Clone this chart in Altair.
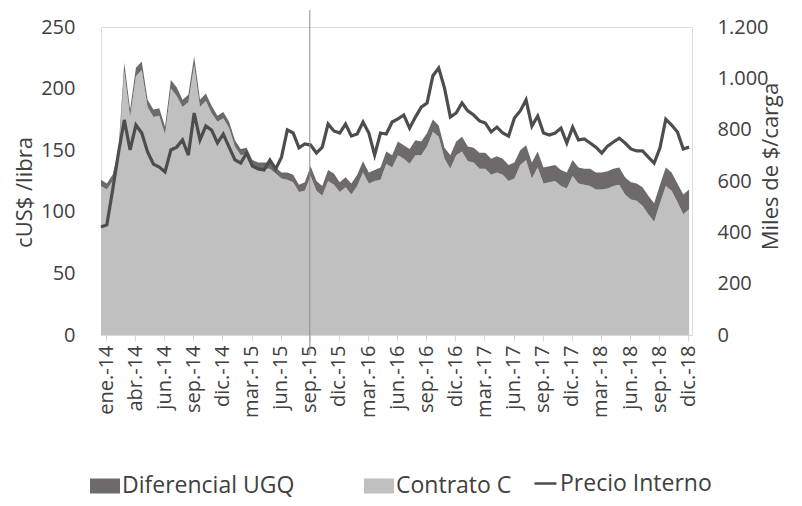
import altair as alt
import pandas as pd

etiquetas = ["ene.-14", "abr.-14", "jun.-14", "sep.-14", "dic.-14", "mar.-15", "jun.-15",
             "sep.-15", "dic.-15", "mar.-16", "jun.-16", "sep.-16", "dic.-16", "mar.-17",
             "jun.-17", "sep.-17", "dic.-17", "mar.-18", "jun.-18", "sep.-18", "dic.-18"]

# cUS$/libra (eje izquierdo)
contrato_c = [121, 118, 125, 144, 214, 177, 210, 215, 185, 177, 178, 163, 200, 194, 185, 189, 219,
              185, 190, 180, 173, 176, 168, 153, 146, 147, 137, 135, 135, 135, 131, 127, 126, 124,
              116, 117, 129, 117, 113, 125, 122, 116, 120, 114, 121, 132, 123, 125, 126, 139, 136,
              146, 143, 139, 146, 146, 153, 165, 161, 143, 135, 146, 149, 141, 140, 135, 135, 130,
              132, 130, 125, 127, 138, 142, 127, 136, 123, 124, 125, 121, 119, 129, 123, 122, 121,
              118, 118, 119, 121, 122, 114, 110, 109, 105, 98, 92, 107, 121, 117, 108, 98, 102]
diferencial_ugq = [5, 5, 5, 6, 7, 6, 7, 7, 6, 6, 6, 6, 7, 7, 6, 6, 7,
                   6, 6, 6, 5, 5, 5, 5, 5, 5, 5, 5, 5, 5, 5, 5, 6, 6,
                   6, 7, 8, 8, 8, 9, 9, 8, 8, 9, 9, 9, 9, 9, 10, 10, 10,
                   11, 11, 12, 12, 11, 11, 10, 9, 9, 11, 11, 12, 12, 12, 13, 13, 13,
                   13, 13, 13, 13, 12, 12, 13, 13, 13, 13, 13, 13, 13, 13, 13, 13, 14,
                   14, 14, 14, 14, 14, 14, 14, 14, 15, 15, 15, 15, 15, 15, 15, 16, 16]
# Miles de $/carga (eje derecho)
precio_interno = [421, 429, 565, 709, 838, 721, 818, 787, 713, 666, 654, 635, 721, 732, 760, 701, 865,
                  760, 814, 798, 748, 783, 732, 682, 670, 709, 658, 647, 643, 682, 647, 693, 799, 787,
                  729, 744, 740, 709, 732, 822, 795, 787, 822, 775, 783, 830, 787, 701, 787, 783, 830,
                  842, 857, 806, 849, 888, 904, 1010, 1040, 962, 849, 865, 904, 873, 857, 834, 826, 791,
                  810, 787, 775, 845, 873, 916, 814, 853, 787, 779, 787, 806, 748, 810, 760, 764, 748,
                  732, 709, 736, 752, 767, 748, 725, 717, 717, 693, 670, 729, 841, 818, 791, 725, 732]

obs_por_etiqueta = 5
desfase = 0.86
pos_etiquetas = [desfase + obs_por_etiqueta * k for k in range(len(etiquetas))]
n = len(contrato_c)

rows = []
for i in range(n):
    rows.append({"obs": i, "serie": "Contrato C", "orden": 0, "valor": contrato_c[i]})
    rows.append({"obs": i, "serie": "Diferencial UGQ", "orden": 1, "valor": diferencial_ugq[i]})
df_area = pd.DataFrame(rows)
df_line = pd.DataFrame({"obs": list(range(n)), "precio": precio_interno,
                        "serie": ["Precio Interno"] * n})
df_evento = pd.DataFrame({"obs": [pos_etiquetas[etiquetas.index("sep.-15")]]})

FONT = "Open Sans"
TXT = "#404040"
lab_arr = "[" + ",".join("'" + e + "'" for e in etiquetas) + "]"
label_expr = f"{lab_arr}[round((datum.value - {desfase}) / {obs_por_etiqueta})]"

x_enc = alt.X("obs:Q",
              scale=alt.Scale(domain=[0, n - 0.5], nice=False, zero=False),
              axis=alt.Axis(values=pos_etiquetas, labelExpr=label_expr, labelAngle=270,
                            grid=False, domainColor="#d9d9d9", tickColor="#d9d9d9",
                            tickSize=6, labelPadding=4, labelFont=FONT, labelFontSize=20,
                            labelColor=TXT, title=None, labelOverlap=False, labelBound=False))

area = alt.Chart(df_area).mark_area(interpolate="linear").encode(
    x=x_enc,
    y=alt.Y("valor:Q", stack="zero",
            scale=alt.Scale(domain=[0, 250], nice=False),
            axis=alt.Axis(values=[0, 50, 100, 150, 200, 250], grid=False, domain=False,
                          ticks=False, labelPadding=26, labelFont=FONT, labelFontSize=20,
                          labelColor=TXT, title="cUS$ /libra", titleFont=FONT,
                          titleFontSize=22, titleFontWeight="normal", titleColor=TXT,
                          titleAngle=270, titleBaseline="middle", titleAlign="center",
                          titleX=-77, titleY=165)),
    color=alt.Color("serie:N",
                    scale=alt.Scale(domain=["Diferencial UGQ", "Contrato C"],
                                    range=["#6e6a6b", "#c0c0c0"]),
                    legend=alt.Legend(title=None, orient="none", legendX=-11, legendY=444,
                                      direction="horizontal", symbolType="M-1,-0.5H1V0.5H-1Z",
                                      symbolSize=900, symbolStrokeWidth=0, labelFont=FONT,
                                      labelFontSize=23, labelColor=TXT, labelOffset=2,
                                      labelLimit=400, columnPadding=69, padding=0)),
    order=alt.Order("orden:Q", sort="ascending"),
)

line = alt.Chart(df_line).mark_line(strokeWidth=3.2, interpolate="linear").encode(
    x=x_enc,
    y=alt.Y("precio:Q",
            scale=alt.Scale(domain=[0, 1200], nice=False),
            axis=alt.Axis(orient="right", values=[0, 200, 400, 600, 800, 1000, 1200],
                          labelExpr="replace(format(datum.value, ',.0f'), ',', '.')",
                          grid=False, domain=False, ticks=False, labelPadding=25,
                          labelFont=FONT, labelFontSize=20, labelColor=TXT,
                          title="Miles de $/carga", titleFont=FONT, titleFontSize=22,
                          titleFontWeight="normal", titleColor=TXT, titleAngle=270,
                          titleBaseline="middle", titleAlign="center",
                          titleX=78, titleY=139)),
    stroke=alt.Stroke("serie:N", scale=alt.Scale(domain=["Precio Interno"], range=["#4d4d4d"]),
                      legend=alt.Legend(title=None, orient="none", legendX=432, legendY=444,
                                        symbolType="stroke", symbolSize=484,
                                        symbolStrokeWidth=2.5, labelFont=FONT,
                                        labelFontSize=23, labelColor=TXT, labelOffset=2,
                                        labelLimit=400, padding=0)),
)

evento = alt.Chart(df_evento).mark_rule(color="#8c8c8c", strokeWidth=1).encode(
    x=x_enc, y=alt.value(-17), y2=alt.value(328))

chart = alt.layer(area, line, evento).resolve_scale(y="independent").properties(
    width=591, height=308,
    autosize=alt.AutoSizeParams(type="none"),
    padding={"left": 93, "top": 19, "right": 102, "bottom": 163},
).configure_view(stroke=None).configure(background="white")

chart.save("out.html", embed_options={"renderer": "svg", "actions": False})
